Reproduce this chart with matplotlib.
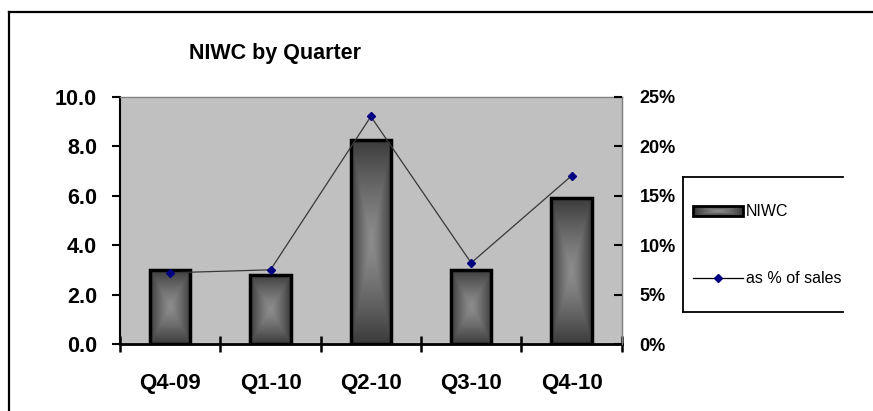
import numpy as np
import matplotlib
matplotlib.use("Agg")
import matplotlib.pyplot as plt
from matplotlib.lines import Line2D
from matplotlib.patches import Patch, Rectangle
from matplotlib.legend_handler import HandlerBase
from matplotlib import font_manager

quarters = ["Q4-09", "Q1-10", "Q2-10", "Q3-10", "Q4-10"]
niwc = [3.0, 2.8, 8.25, 3.0, 5.9]
pct_of_sales = [7.2, 7.5, 23.0, 8.2, 17.0]

plt.rcParams["font.family"] = ["Liberation Sans", "DejaVu Sans"]
names = {f.name for f in font_manager.fontManager.ttflist}
narrow = "Liberation Sans Narrow" if "Liberation Sans Narrow" in names else "Liberation Sans"


def box_shade(t):
    # gray level for the box gradient, t=0 at centre, t=1 at rim
    return 0.55 - 0.32 * t ** 1.3


class GradientBoxHandler(HandlerBase):
    # legend key drawn as nested rectangles to mimic the bar gradient
    def create_artists(self, legend, orig_handle, xdescent, ydescent, width, height, fontsize, trans):
        arts = []
        steps = 12
        cx, cy = -xdescent + width / 2, -ydescent + height / 2
        for k in range(steps):
            t = 1 - k / steps
            w, h = width * t, height * t
            g = box_shade(t)
            arts.append(Rectangle((cx - w / 2, cy - h / 2), w, h, facecolor=(g, g, g),
                                  edgecolor="none", transform=trans))
        arts.append(Rectangle((-xdescent, -ydescent), width, height, facecolor="none",
                              edgecolor="black", linewidth=2, transform=trans))
        return arts


fig = plt.figure(figsize=(8.73, 4.11), dpi=100)
ax = fig.add_axes([0.1375, 0.163, 0.5746, 0.6017])
ax.set_facecolor("#c0c0c0")

x = np.arange(len(quarters))
bars = ax.bar(x, niwc, width=0.4, facecolor="none", edgecolor="black", linewidth=2.5, zorder=3)

# box-shaped gradient inside each bar: light centre, dark rim
n = 200
u = np.linspace(-1, 1, n)
U, V = np.meshgrid(u, u)
grad = box_shade(np.maximum(np.abs(U), np.abs(V)))
for b in bars:
    x0, w, h = b.get_x(), b.get_width(), b.get_height()
    im = ax.imshow(grad, cmap="gray", vmin=0, vmax=1, extent=(x0, x0 + w, 0, h),
                   aspect="auto", zorder=2, interpolation="bilinear")
    im.set_clip_path(b)

ax.set_xlim(-0.5, len(quarters) - 0.5)
ax.set_ylim(0, 10)
ax.set_yticks(np.arange(0, 10.1, 2))
ax.set_yticklabels(["%.1f" % v for v in np.arange(0, 10.1, 2)], fontsize=15.5, fontweight="bold")
ax.set_xticks(x)
ax.set_xticklabels(quarters, fontsize=16, fontweight="bold")
ax.set_xticks(np.arange(-0.5, len(quarters)), minor=True)
ax.tick_params(axis="x", which="major", length=0, pad=21)
ax.tick_params(axis="x", which="minor", direction="inout", length=12, width=1.8)
ax.tick_params(axis="y", direction="out", length=5.5, width=1.5, pad=11)

for s in ["top", "right"]:
    ax.spines[s].set_color("#808080")
    ax.spines[s].set_linewidth(1)
ax.spines["left"].set_linewidth(1.5)
ax.spines["bottom"].set_linewidth(2)

ax2 = ax.twinx()
ax2.plot(x, pct_of_sales, color="#383838", linewidth=0.9, marker="D", markersize=4,
         markerfacecolor="#000080", markeredgecolor="#000080", zorder=4)
ax2.set_ylim(0, 25)
ax2.set_yticks(np.arange(0, 26, 5))
ax2.set_yticklabels(["%d%%" % v for v in np.arange(0, 26, 5)], fontsize=13,
                    fontweight="bold", family=narrow)
ax2.tick_params(axis="y", direction="in", length=5.5, width=1.5, pad=13)
for s in ax2.spines.values():
    s.set_visible(False)
ax2.spines["right"].set_visible(True)
ax2.spines["right"].set_color("#808080")

fig.text(0.315, 0.871, "NIWC by Quarter", ha="center", va="center",
         fontsize=15.5, fontweight="bold")

handles = [Patch(facecolor="#555555", edgecolor="black"),
           Line2D([], [], color="black", linewidth=0.9, marker="D", markersize=4,
                  markerfacecolor="#000080", markeredgecolor="#000080")]
leg = fig.legend(handles, ["NIWC", "as % of sales"], loc="upper left",
                 bbox_to_anchor=(0.787, 0.518), frameon=False, fontsize=11.5,
                 handlelength=3.1, handleheight=0.6, handletextpad=0.2,
                 labelspacing=3.25, borderaxespad=0,
                 handler_map={Patch: GradientBoxHandler()})

# legend frame: left, top and bottom edges only
lx0, lx1 = 683.3 / 873, 842.7 / 873
ly0, ly1 = 1 - 311.7 / 411, 1 - 177.3 / 411
for xs, ys in [([lx0, lx1], [ly1, ly1]), ([lx0, lx1], [ly0, ly0]), ([lx0, lx0], [ly0, ly1])]:
    fig.add_artist(Line2D(xs, ys, color="black", linewidth=1.3, transform=fig.transFigure))

# outer chart border
bx, by = 9 / 873, 1 - 12 / 411
fig.add_artist(Line2D([bx, 1.0], [by, by], color="black", linewidth=1.6, transform=fig.transFigure))
fig.add_artist(Line2D([bx, bx], [0.0, by], color="black", linewidth=1.6, transform=fig.transFigure))

fig.savefig("out.png", dpi=100)
